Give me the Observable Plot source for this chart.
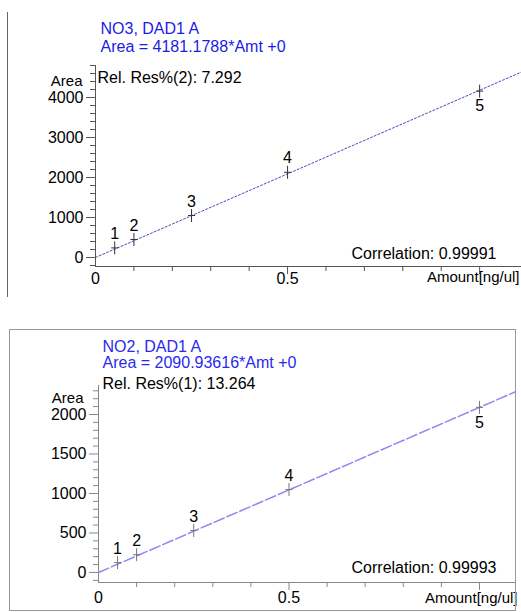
<!DOCTYPE html>
<html>
<head>
<meta charset="utf-8">
<script src="https://cdn.jsdelivr.net/npm/d3@7"></script>
<script src="https://cdn.jsdelivr.net/npm/@observablehq/plot@0.6"></script>
<style>
  html, body { margin: 0; padding: 0; background: #fff; }
  #wrap { position: relative; width: 521px; height: 612px; overflow: hidden; }
  #top, #bottom { position: absolute; left: 0; width: 521px; }
  #top { top: 0; }
  #bottom { top: 300px; }
  #leftline { position: absolute; left: 7px; top: 12px; width: 1px; height: 285px; background: #666; }
  #box { position: absolute; left: 9px; top: 329px; width: 507px; height: 282px; box-sizing: border-box; border: 1px solid #999; pointer-events: none; }
</style>
</head>
<body>
<div id="wrap">
  <div id="top"></div>
  <div id="bottom"></div>
  <div id="leftline"></div>
  <div id="box"></div>
</div>
<script>
// ---- Data ----
const levels = ["1", "2", "3", "4", "5"];
const amounts = [0.05, 0.1, 0.25, 0.5, 1.0];           // ng/ul
const no3Areas = [240, 450, 1050, 2130, 4160];
const no2Areas = [125, 225, 532, 1050, 2090];
const no3FitX = [0, 1.109];
const no3FitY = [0, 4637];
const no2FitX = [0, 1.0945];
const no2FitY = [0, 2288];
const no3YTicks = [0, 1000, 2000, 3000, 4000];
const no2YTicks = [0, 500, 1000, 1500, 2000];
const xMajorTicks = [0.5, 1.0];
const xMinorTicks = [0.1, 0.2, 0.3, 0.4, 0.6, 0.7, 0.8, 0.9];
const xTickLabelValues = [0, 0.5];
const xTickLabels = ["0", "0.5"];
const no3Texts = {title: "NO3, DAD1 A", eq: "Area = 4181.1788*Amt +0", res: "Rel. Res%(2): 7.292", corr: "Correlation: 0.99991"};
const no2Texts = {title: "NO2, DAD1 A", eq: "Area = 2090.93616*Amt +0", res: "Rel. Res%(1): 13.264", corr: "Correlation: 0.99993"};
const yLabel = "Area";
const xLabel = "Amount[ng/ul]";

const FONT = "'Liberation Sans', Arial, Helvetica, sans-serif";

const plusSymbol = {
  draw(ctx) {
    ctx.moveTo(0, -6.5); ctx.lineTo(0, 6.5);
    ctx.moveTo(-3.5, 0); ctx.lineTo(3.5, 0);
  }
};

function makeChart(cfg) {
  const pts = amounts.map((a, i) => ({x: a, y: cfg.areas[i], label: levels[i]}));
  const fit = cfg.fitX.map((x, i) => ({x, y: cfg.fitY[i]}));
  const yMinor = d3.range(cfg.yMinorStart, cfg.yDomain[1] + 1, cfg.yMinorStep).filter(v => !cfg.yTicks.includes(v));
  const T = cfg.texts;
  return Plot.plot({
    width: 521,
    height: cfg.height,
    marginLeft: cfg.marginLeft,
    marginRight: cfg.marginRight,
    marginTop: cfg.marginTop,
    marginBottom: cfg.marginBottom,
    x: {domain: [0, cfg.fitX[1]], axis: null, label: null},
    y: {domain: cfg.yDomain, axis: null, label: null},
    style: {fontFamily: FONT, fontSize: "16px", color: "#000", background: "transparent"},
    marks: [
      Plot.ruleX([0], {stroke: cfg.axisColor}),
      Plot.ruleY([cfg.yDomain[0]], {stroke: cfg.axisColor}),
      Plot.axisY({ticks: cfg.yTicks, tickSize: 9, tickPadding: 3, stroke: cfg.axisColor, fill: "#000", tickFormat: d => String(d), label: null}),
      Plot.axisY({ticks: yMinor, tickSize: 5, text: null, stroke: cfg.axisColor, label: null}),
      Plot.axisX({ticks: xMajorTicks, tickSize: 8, text: null, stroke: cfg.axisColor, label: null}),
      Plot.axisX({ticks: xMinorTicks, tickSize: 5, text: null, stroke: cfg.axisColor, label: null}),
      Plot.text(xTickLabelValues, {x: d => d, text: (d, i) => xTickLabels[i], frameAnchor: "bottom", dy: cfg.xLabelDy, fontSize: 16, fill: "#000"}),
      Plot.line(fit, {x: "x", y: "y", stroke: cfg.lineColor, strokeWidth: cfg.lineWidth, strokeDasharray: cfg.dash}),
      Plot.dot(pts, {x: "x", y: "y", symbol: plusSymbol, r: 4, fill: "none", stroke: cfg.markColor, strokeWidth: 1}),
      Plot.text(pts.slice(0, 4), {x: "x", y: "y", text: "label", dy: -14, fontSize: 16, fill: "#000"}),
      Plot.text(pts.slice(4), {x: "x", y: "y", text: "label", dy: 15, fontSize: 16, fill: "#000"}),
      Plot.text([T.title], {frameAnchor: "top-left", textAnchor: "start", dx: cfg.titleDx, dy: cfg.titleDy, fontSize: 16, fill: cfg.titleColor}),
      Plot.text([T.eq], {frameAnchor: "top-left", textAnchor: "start", dx: cfg.titleDx, dy: cfg.eqDy, fontSize: 16, fill: cfg.titleColor}),
      Plot.text([T.res], {frameAnchor: "top-left", textAnchor: "start", dx: cfg.resDx, dy: cfg.resDy, fontSize: 16, fill: "#000"}),
      Plot.text([yLabel], {frameAnchor: "top-left", textAnchor: "end", dx: cfg.areaDx, dy: cfg.areaDy, fontSize: 15, fill: "#000"}),
      Plot.text([T.corr], {frameAnchor: "bottom-right", textAnchor: "end", dx: cfg.corrDx, dy: cfg.corrDy, fontSize: 16, fill: "#000"}),
      Plot.text([xLabel], {frameAnchor: "bottom-right", textAnchor: "end", dx: cfg.amtDx, dy: cfg.amtDy, fontSize: 15, fill: "#000"})
    ]
  });
}

document.getElementById("top").append(makeChart({
  areas: no3Areas, fitX: no3FitX, fitY: no3FitY, texts: no3Texts,
  height: 300, marginLeft: 95, marginRight: 0, marginTop: 65, marginBottom: 34,
  yDomain: [-225, 4800], yTicks: no3YTicks, yMinorStart: -200, yMinorStep: 200,
  axisColor: "#555", lineColor: "#4848c0", lineWidth: 1, dash: "2,2", markColor: "#333",
  titleColor: "#1c1ce6", xLabelDy: 17,
  titleDx: 5, titleDy: -43, eqDy: -25, resDx: 2, resDy: 6.5, areaDx: -13, areaDy: 10,
  corrDx: -25, corrDy: -8, amtDx: -2, amtDy: 15
}));

document.getElementById("bottom").append(makeChart({
  areas: no2Areas, fitX: no2FitX, fitY: no2FitY, texts: no2Texts,
  height: 312, marginLeft: 98, marginRight: 6, marginTop: 85, marginBottom: 30,
  yDomain: [-127, 2367], yTicks: no2YTicks, yMinorStart: -100, yMinorStep: 100,
  axisColor: "#888", lineColor: "#8a8af2", lineWidth: 1.5, dash: "11,3", markColor: "#777",
  titleColor: "#2a2aee", xLabelDy: 20,
  titleDx: 4, titleDy: -45, eqDy: -29, resDx: 4, resDy: -7.5, areaDx: -15, areaDy: 7,
  corrDx: -19, corrDy: -10, amtDx: 2, amtDy: 20
}));
</script>
</body>
</html>
